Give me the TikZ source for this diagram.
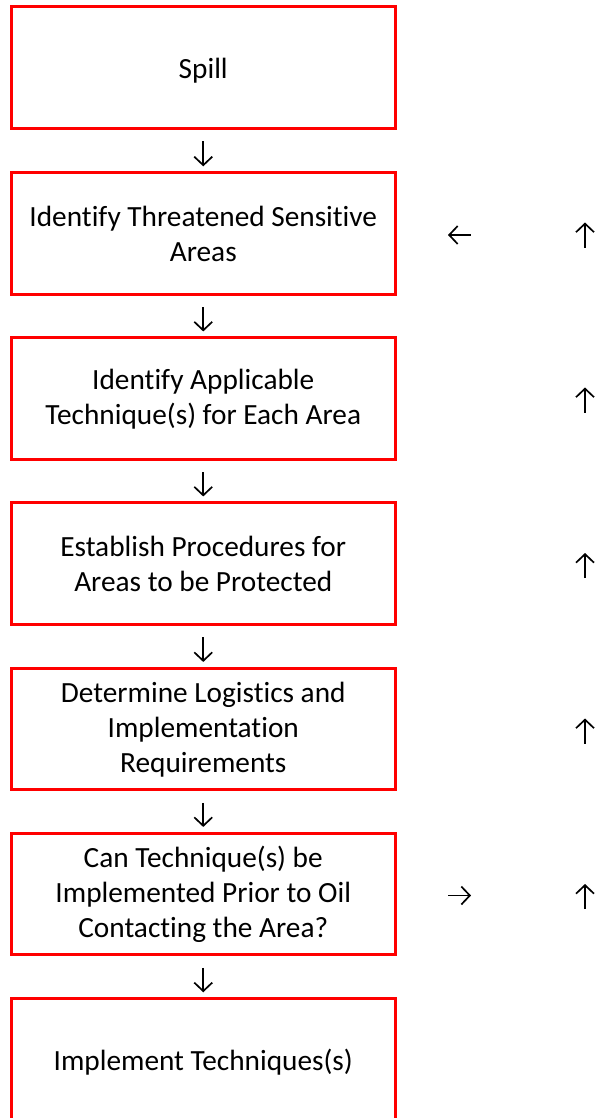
\documentclass[tikz,border=0pt]{standalone}
\usepackage{fontspec}
\setmainfont{Carlito}[Ligatures=NoCommon]
\usetikzlibrary{arrows.meta}

\tikzset{
  stepbox/.style={draw=red, line width=3pt, minimum width=383.5pt, minimum height=121.5pt,
    inner sep=0pt, outer sep=0pt, align=center,
    font=\fontsize{29.3}{35}\selectfont},
  % single lines get a fixed height and depth so they sit like the wrapped ones
  oneline/.style={execute at begin node={\rule{0pt}{28pt}},
    execute at end node={\rule[-5.1pt]{0pt}{0pt}}},
  glypharrow/.style={line width=1.7pt, -{Straight Barb[length=8.5pt,width=18pt]}},
}

\begin{document}
\begin{tikzpicture}[x=1pt, y=-1pt]
\useasboundingbox (0,0) rectangle (599,1118);

% flow of boxes, one every 165.33 units
\node[stepbox, oneline] (b1) at (203.25, 67.4) {Spill};
\node[stepbox] (b2) at (203.25, 233.6) {Identify Threatened Sensitive\\Areas};
\node[stepbox] (b3) at (203.25, 398.7) {Identify Applicable\\Technique(s) for Each Area};
\node[stepbox] (b4) at (203.25, 563.7) {Establish Procedures for\\Areas to be Protected};
\node[stepbox] (b5) at (203.25, 729.2) {Determine Logistics and\\Implementation\\Requirements};
\node[stepbox] (b6) at (203.25, 894.2) {Can Technique(s) be\\Implemented Prior to Oil\\Contacting the Area?};
\node[stepbox, oneline] (b7) at (203.25, 1059.5) {Implement Techniques(s)};

% downward arrows between successive boxes
\foreach \a/\b in {b1/b2, b2/b3, b3/b4, b4/b5, b5/b6, b6/b7}
  \draw[glypharrow, shorten <=13pt, shorten >=6.5pt] (\a.south) -- (\b.north);

% side arrows
\coordinate (la) at (470.7, 235);
\coordinate (lb) at (448, 235);
\draw[glypharrow] (la) -- (lb);

\coordinate (ra) at (448.3, 895.5);
\coordinate (rb) at (471, 895.5);
\draw[glypharrow] (ra) -- (rb);

\foreach \y [count=\i] in {235, 400, 565.5, 731, 896.5} {
  \coordinate (u\i a) at (585, \y+12.5);
  \coordinate (u\i b) at (585, \y-12.5);
  \draw[glypharrow] (u\i a) -- (u\i b);
}
\end{tikzpicture}
\end{document}
